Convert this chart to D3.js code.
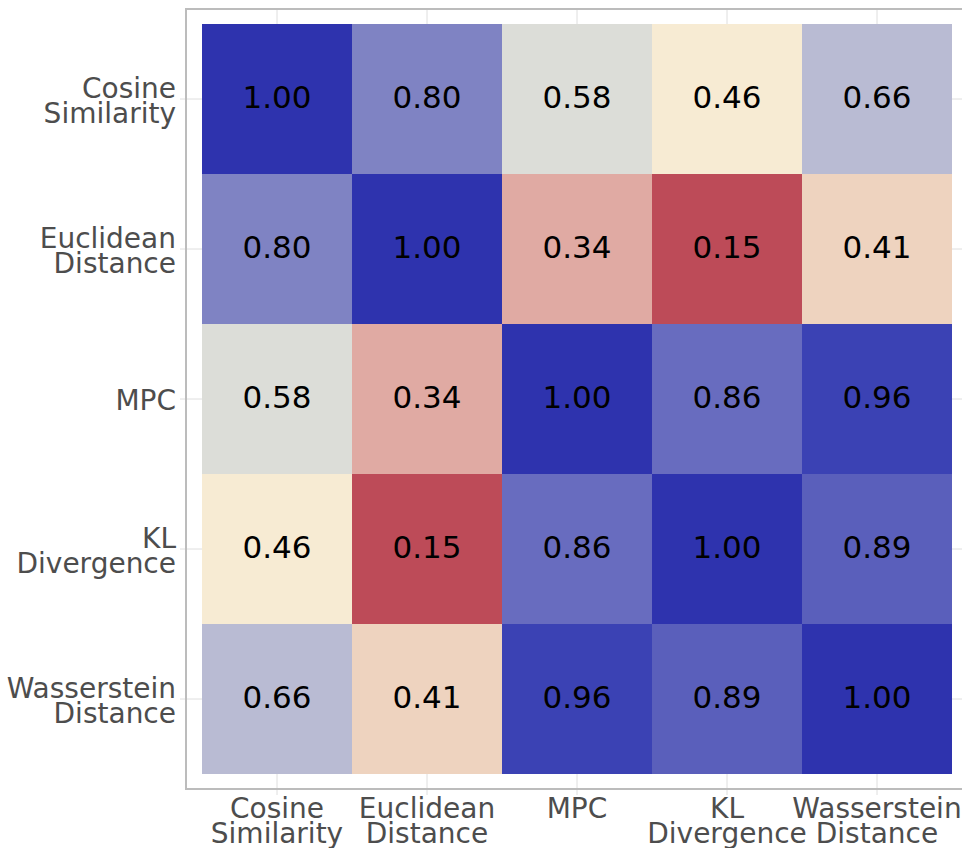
<!DOCTYPE html>
<html><head><meta charset="utf-8">
<script src="https://cdn.jsdelivr.net/npm/d3@7"></script>
<style>body{margin:0;background:#fff;}text{font-family:"DejaVu Sans",sans-serif;}</style>
</head><body>
<svg id="chart" width="962" height="848"></svg>
<script>
const categories = ["Cosine\nSimilarity", "Euclidean\nDistance", "MPC", "KL\nDivergence", "Wasserstein\nDistance"];
const matrix = [
  [1.00, 0.80, 0.58, 0.46, 0.66],
  [0.80, 1.00, 0.34, 0.15, 0.41],
  [0.58, 0.34, 1.00, 0.86, 0.96],
  [0.46, 0.15, 0.86, 1.00, 0.89],
  [0.66, 0.41, 0.96, 0.89, 1.00]
];
const colorStops = [0.15, 0.34, 0.41, 0.46, 0.58, 0.66, 0.80, 0.86, 0.89, 0.96, 1.00];
const colorValues = ["#bd4b58", "#e0aaa3", "#eed3bf", "#f7ebd3", "#dcddd8", "#b9bbd3", "#7f83c3", "#686cbf", "#5a5fbb", "#3b42b4", "#2e33ae"];

const svg = d3.select("#chart");
const panel = {x0: 186, y0: 9, x1: 968, y1: 789};
const x = d3.scaleBand().domain(categories).range([202, 952]).padding(0);
const y = d3.scaleBand().domain(categories).range([24, 774]).padding(0);
const color = d3.scaleLinear().domain(colorStops).range(colorValues);

svg.append("rect").attr("x", panel.x0).attr("y", panel.y0)
  .attr("width", panel.x1 - panel.x0).attr("height", panel.y1 - panel.y0)
  .attr("fill", "#fff");

const g = svg.append("g");
categories.forEach(c => {
  const cx = x(c) + x.bandwidth() / 2;
  g.append("line").attr("x1", cx).attr("x2", cx).attr("y1", panel.y0).attr("y2", panel.y1 + 6)
    .attr("stroke", "#dedede").attr("stroke-width", 1);
  const cy = y(c) + y.bandwidth() / 2;
  g.append("line").attr("x1", panel.x0 - 6).attr("x2", panel.x1).attr("y1", cy).attr("y2", cy)
    .attr("stroke", "#dedede").attr("stroke-width", 1);
});

const cells = [];
matrix.forEach((row, i) => row.forEach((v, j) => cells.push({r: categories[i], c: categories[j], v})));
svg.append("g").selectAll("rect").data(cells).join("rect")
  .attr("x", d => x(d.c)).attr("y", d => y(d.r))
  .attr("width", x.bandwidth()).attr("height", y.bandwidth())
  .attr("fill", d => color(d.v));
svg.append("g").selectAll("text").data(cells).join("text")
  .attr("x", d => x(d.c) + x.bandwidth() / 2).attr("y", d => y(d.r) + y.bandwidth() / 2 + 9)
  .attr("text-anchor", "middle")
  .attr("font-size", 31).attr("fill", "#000")
  .text(d => d.v.toFixed(2));

svg.append("rect").attr("x", panel.x0).attr("y", panel.y0)
  .attr("width", panel.x1 - panel.x0).attr("height", panel.y1 - panel.y0)
  .attr("fill", "none").attr("stroke", "#bcbcbc").attr("stroke-width", 2);

const lh = 25;
categories.forEach(c => {
  const lines = c.split("\n");
  const cy = y(c) + y.bandwidth() / 2;
  const t = svg.append("text").attr("text-anchor", "end").attr("font-size", 28).attr("fill", "#4d4d4d");
  lines.forEach((l, k) => {
    t.append("tspan").attr("x", 176)
      .attr("y", cy + (k - (lines.length - 1) / 2) * lh + 11).text(l);
  });
});
categories.forEach(c => {
  const lines = c.split("\n");
  const cx = x(c) + x.bandwidth() / 2;
  const t = svg.append("text").attr("text-anchor", "middle").attr("font-size", 28).attr("fill", "#4d4d4d");
  lines.forEach((l, k) => {
    t.append("tspan").attr("x", cx).attr("y", 818 + k * lh).text(l);
  });
});
</script>
</body></html>
